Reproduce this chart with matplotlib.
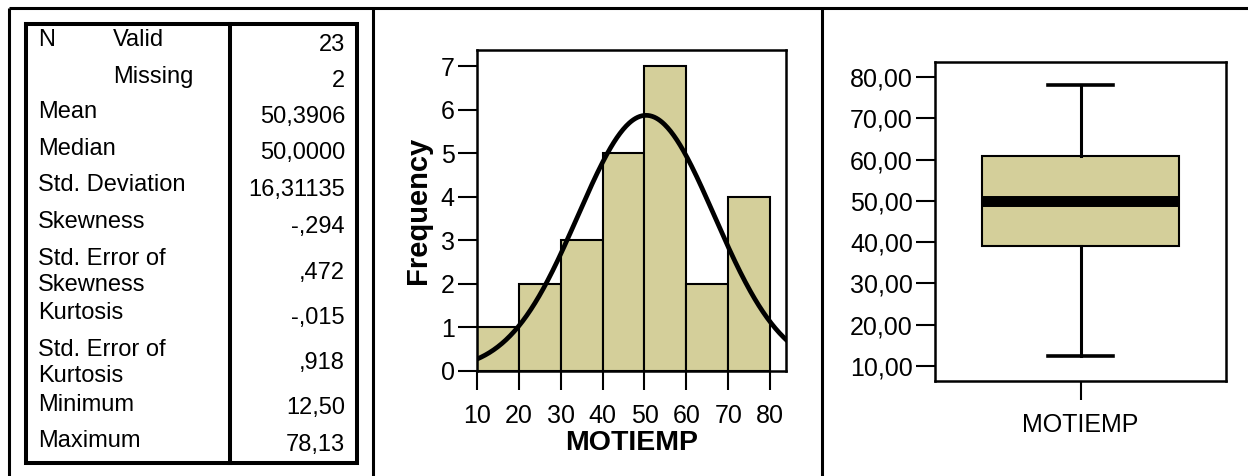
import numpy as np
import matplotlib
matplotlib.use("Agg")
import matplotlib.pyplot as plt

plt.rcParams['font.family'] = ['Liberation Sans', 'DejaVu Sans']

# descriptive statistics for MOTIEMP
stat_labels = ["N", "Mean", "Median", "Std. Deviation", "Skewness",
               "Std. Error of\nSkewness", "Kurtosis", "Std. Error of\nKurtosis",
               "Minimum", "Maximum"]
n_sub = ["Valid", "Missing"]
stat_values = ["23", "2", "50,3906", "50,0000", "16,31135", "-,294", ",472",
               "-,015", ",918", "12,50", "78,13"]

mean = 50.3906
std = 16.31135

# histogram bins
bin_edges = [10, 20, 30, 40, 50, 60, 70, 80]
freq = [1, 2, 3, 5, 7, 2, 4]

# box plot five-number summary
box_min = 12.50
box_q1 = 39.06
box_med = 50.00
box_q3 = 60.94
box_max = 78.13
box_ticks = [10, 20, 30, 40, 50, 60, 70, 80]
box_ticklabels = ["10,00", "20,00", "30,00", "40,00", "50,00", "60,00", "70,00", "80,00"]

W, H = 1248, 476
fig = plt.figure(figsize=(W / 100, H / 100), dpi=100)

def px_axes(left, top, right, bottom):
    return fig.add_axes([left / W, 1 - bottom / H, (right - left) / W, (bottom - top) / H])

# background layer in pixel coordinates: panel frame and statistics table
bg = fig.add_axes([0, 0, 1, 1])
bg.set_xlim(0, W)
bg.set_ylim(H, 0)
bg.axis('off')

frame_lw = 2.2
bg.plot([9, W], [8, 8], color='black', lw=frame_lw, solid_capstyle='butt')
for x in [9, 373, 822]:
    bg.plot([x, x], [8, H], color='black', lw=frame_lw, solid_capstyle='butt')

tab_lw = 2.9
bg.plot([26, 357, 357, 26, 26], [24, 24, 463, 463, 24], color='black', lw=tab_lw,
        solid_joinstyle='miter')
bg.plot([230, 230], [24, 463], color='black', lw=tab_lw)

fs_tab = 17
label_y = [40, 112, 149, 185, 222, 272, 313, 363, 405, 441]
for lab, y in zip(stat_labels, label_y):
    bg.text(38, y, lab, fontsize=fs_tab, ha='left', va='center', linespacing=1.25)
for lab, y in zip(n_sub, [40, 77]):
    bg.text(113, y, lab, fontsize=fs_tab, ha='left', va='center')
value_y = [45, 81, 117, 153, 190, 227, 273, 318, 363, 408, 445]
for val, y in zip(stat_values, value_y):
    bg.text(345, y, val, fontsize=fs_tab, ha='right', va='center')

fill = '#D4CF9A'

# histogram with normal curve
ax = px_axes(477, 50, 786, 371)
ax.bar(bin_edges[:-1], freq, width=np.diff(bin_edges), align='edge',
       color=fill, edgecolor='black', linewidth=1.5, zorder=2)
xs = np.linspace(10, 84, 300)
scale = sum(freq) * (bin_edges[1] - bin_edges[0])
ys = scale * np.exp(-0.5 * ((xs - mean) / std) ** 2) / (std * np.sqrt(2 * np.pi))
ax.plot(xs, ys, color='black', lw=3.4, zorder=3)
ax.set_xlim(10, 83.8)
ax.set_ylim(0, 7.37)
ax.set_xticks(bin_edges)
ax.set_yticks(range(8))
ax.tick_params(axis='both', labelsize=18, length=14, width=1.5)
ax.tick_params(axis='x', pad=10)
ax.tick_params(axis='y', pad=2)
for s in ax.spines.values():
    s.set_linewidth(1.8)
ax.set_xlabel("MOTIEMP", fontsize=20.5, fontweight='bold')
ax.xaxis.set_label_coords(0.5, -0.184)
ax.set_ylabel("Frequency", fontsize=21, fontweight='bold')
ax.yaxis.set_label_coords(-0.145, 0.5)

# box plot
ax2 = px_axes(935, 62, 1226, 381)
stats = [dict(med=box_med, q1=box_q1, q3=box_q3, whislo=box_min, whishi=box_max,
              label="MOTIEMP", fliers=[])]
ax2.bxp(stats, positions=[1], widths=0.677, capwidths=0.223, patch_artist=True,
        showfliers=False,
        boxprops=dict(facecolor=fill, edgecolor='black', linewidth=1.5),
        medianprops=dict(color='black', linewidth=7.9, solid_capstyle='butt'),
        whiskerprops=dict(color='black', linewidth=2.2),
        capprops=dict(color='black', linewidth=2.6))
ax2.set_xlim(0.5, 1.5)
ax2.set_ylim(6.4, 83.6)
ax2.set_yticks(box_ticks)
ax2.set_yticklabels(box_ticklabels)
ax2.tick_params(axis='both', labelsize=18, length=14, width=1.5)
ax2.tick_params(axis='y', pad=2)
ax2.tick_params(axis='x', pad=9)
for s in ax2.spines.values():
    s.set_linewidth(1.8)

fig.savefig("out.png", dpi=100)
